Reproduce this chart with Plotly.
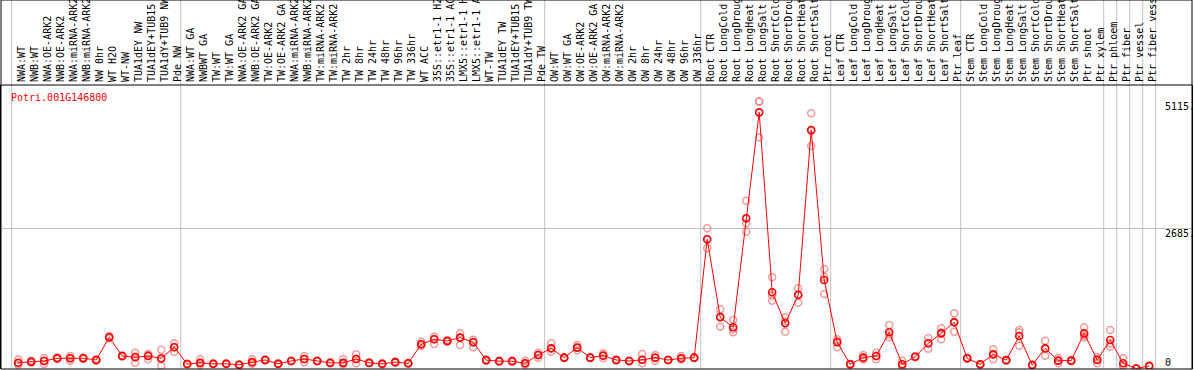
import plotly.graph_objects as go

gene = "Potri.001G146800"

group_labels = [
    ["NWA:WT", "NWB:WT", "NWA:OE-ARK2", "NWB:OE-ARK2", "NWA:miRNA-ARK2", "NWB:miRNA-ARK2",
     "NW 0hr", "WT H2O", "WT-NW", "TUA1dEY NW", "TUA1dEY+TUB15 NW", "TUA1dY+TUB9 NW", "Pde NW"],
    ["NWA:WT GA", "NWBWT GA", "TW:WT", "TW:WT GA", "NWA:OE-ARK2 GA", "NWB:OE-ARK2 GA",
     "TW:OE-ARK2", "TW:OE-ARK2 GA", "NWA:miRNA-ARK2 GA", "NWB:miRNA-ARK2 GA", "TW:miRNA-ARK2",
     "TW:miRNA-ARK2 GA", "TW 2hr", "TW 8hr", "TW 24hr", "TW 48hr", "TW 96hr", "TW 336hr",
     "WT ACC", "35S::etr1-1 H2O", "35S::etr1-1 ACC", "LMX5::etr1-1 H2O", "LMX5::etr1-1 ACC",
     "WT-TW", "TUA1dEY TW", "TUA1dEY+TUB15 TW", "TUA1dY+TUB9 TW", "Pde TW"],
    ["OW:WT", "OW:WT GA", "OW:OE-ARK2", "OW:OE-ARK2 GA", "OW:miRNA-ARK2", "OW:miRNA-ARK2 GA",
     "OW 2hr", "OW 8hr", "OW 24hr", "OW 48hr", "OW 96hr", "OW 336hr"],
    ["Root CTR", "Root LongCold", "Root LongDrought", "Root LongHeat", "Root LongSalt",
     "Root ShortCold", "Root ShortDrought", "Root ShortHeat", "Root ShortSalt", "Ptr root"],
    ["Leaf CTR", "Leaf LongCold", "Leaf LongDrought", "Leaf LongHeat", "Leaf LongSalt",
     "Leaf ShortCold", "Leaf ShortDrought", "Leaf ShortHeat", "Leaf ShortSalt", "Ptr leaf"],
    ["Stem CTR", "Stem LongCold", "Stem LongDrought", "Stem LongHeat", "Stem LongSalt",
     "Stem ShortCold", "Stem ShortDrought", "Stem ShortHeat", "Stem ShortSalt", "Ptr shoot", "Ptr xylem"],
    ["Ptr phloem"],
    ["Ptr fiber"],
    ["Ptr vessel"],
    ["Ptr fiber vessel"],
]

mean_values = [
    111, 130, 144, 195, 195, 195, 163, 597, 239, 214, 239, 195, 406,
    86, 108, 89, 89, 70, 121, 163, 89, 144, 182, 144, 108, 108, 182, 108, 89, 121, 99,
    463, 559, 527, 591, 503, 160, 140, 140, 99, 259,
    386, 207, 399, 207, 246, 163, 144, 166, 207, 163, 195, 207,
    2474, 980, 789, 2876, 4906, 1459, 865, 1407, 4567, 1695,
    501, 80, 207, 239, 693, 80, 226, 482, 673, 884,
    195, 80, 271, 160, 622, 67, 386, 150, 150, 673, 163,
    546, 99, 0, 48,
]

rep_a = [
    170, 150, 195, 210, 239, 210, 175, 620, 250, 303, 278, 358, 482,
    90, 176, 95, 95, 75, 176, 170, 95, 150, 239, 150, 115, 176, 271, 112, 95, 130, 105,
    513, 610, 545, 673, 550, 170, 148, 150, 150, 303,
    482, 215, 450, 215, 290, 170, 150, 278, 259, 168, 239, 215,
    2685, 1134, 929, 3214, 5115, 1746, 980, 1536, 4887, 1905,
    559, 90, 259, 303, 833, 150, 235, 584, 770, 1057,
    205, 88, 367, 168, 737, 75, 533, 200, 160, 789, 214,
    737, 195, 5, 55,
]

rep_b = [
    70, 110, 86, 180, 150, 180, 150, 580, 230, 111, 176, 57, 322,
    80, 70, 85, 85, 60, 90, 155, 85, 140, 121, 138, 100, 80, 99, 104, 82, 112, 92,
    430, 469, 510, 450, 408, 150, 132, 130, 70, 207,
    322, 200, 350, 200, 195, 155, 138, 99, 150, 158, 170, 200,
    2302, 801, 693, 2620, 4427, 1298, 705, 1260, 4261, 1427,
    408, 70, 170, 176, 597, 50, 215, 377, 559, 705,
    185, 72, 176, 152, 437, 60, 246, 99, 140, 600, 99,
    418, 50, 0, 40,
]

rep_c = [
    100, 130, 150, 195, 195, 195, 163, 597, 239, 228, 260, 170, 410,
    86, 108, 89, 89, 70, 121, 163, 89, 144, 182, 144, 108, 108, 182, 108, 89, 121, 99,
    463, 559, 527, 591, 503, 160, 140, 140, 99, 259,
    386, 207, 399, 207, 246, 163, 144, 166, 207, 163, 195, 207,
    2474, 1000, 750, 2780, 5115, 1400, 900, 1420, 4550, 1750,
    520, 80, 190, 239, 650, 40, 226, 485, 690, 890,
    195, 80, 270, 160, 692, 67, 380, 150, 150, 630, 176,
    483, 52, 0, 48,
]

y_tick_values = [0, 2685, 5115]
y_tick_texts = ["0", "2685.", "5115."]

# ---------------------------------------------------------------
labels = [lab for g in group_labels for lab in g]
xs = list(range(len(labels)))

boundaries = [-0.5]
acc = 0
for g in group_labels:
    acc += len(g)
    boundaries.append(acc - 0.5)

FONT = "DejaVu Sans Mono"
W, H = 1194, 370
ML, MR, MT, MB = 1, 2, 85, 1
plot_h = H - MT - MB
top_paper = 1 + MT / plot_h

fig = go.Figure()

rep_x = xs * 3
rep_y = rep_a + rep_b + rep_c
fig.add_trace(go.Scatter(
    x=rep_x, y=rep_y, mode="markers",
    marker=dict(symbol="circle-open", size=7, color="rgba(235,120,120,0.75)",
                line=dict(width=1.5, color="rgba(235,120,120,0.75)")),
    hoverinfo="skip", showlegend=False,
))
fig.add_trace(go.Scatter(
    x=xs, y=mean_values, mode="lines+markers",
    line=dict(color="#ff0000", width=1),
    marker=dict(symbol="circle-open", size=7, color="#ff0000",
                line=dict(width=1.6, color="#ff0000")),
    showlegend=False,
))

shapes = []
for b in boundaries:
    shapes.append(dict(type="line", xref="x", yref="paper", x0=b, x1=b, y0=0, y1=top_paper,
                       line=dict(color="#c0c0c0", width=1), layer="below"))
shapes.append(dict(type="rect", xref="paper", yref="paper", x0=0, x1=1, y0=0, y1=top_paper,
                   line=dict(color="black", width=1), fillcolor="rgba(0,0,0,0)", layer="above"))
shapes.append(dict(type="line", xref="paper", yref="paper", x0=0, x1=1, y0=1, y1=1,
                   line=dict(color="black", width=1), layer="above"))

annotations = [dict(text=gene, xref="paper", yref="paper", x=8 / (W - ML - MR), y=(H - MB - 97) / plot_h,
                    xanchor="left", yanchor="middle", showarrow=False,
                    font=dict(family=FONT, size=10, color="#ff0000"))]
lab_x = (1163 - ML) / (W - ML - MR)
for v, t in zip(y_tick_values, y_tick_texts):
    shift = 6 if v == 0 else -5
    annotations.append(dict(text=t, xref="paper", yref="y", x=lab_x, y=v, yshift=shift,
                            xanchor="left", yanchor="middle", showarrow=False,
                            font=dict(family=FONT, size=10, color="black")))

px_per_unit = 13.0
x0_px = 18.2
x_left = (ML - x0_px) / px_per_unit
x_right = (W - MR - x0_px) / px_per_unit

fig.update_layout(
    width=W, height=H, template=None,
    margin=dict(l=ML, r=MR, t=MT, b=MB, pad=0),
    paper_bgcolor="white", plot_bgcolor="white",
    shapes=shapes, annotations=annotations,
    xaxis=dict(range=[x_left, x_right], side="top", tickmode="array", tickvals=xs, ticktext=labels,
               tickangle=-90, tickfont=dict(family=FONT, size=10, color="black"),
               showgrid=False, zeroline=False, showline=False, ticks="", automargin=False,
               ticklabelstandoff=2, ticklabelshift=4),
    yaxis=dict(range=[-10, 5430], tickmode="array", tickvals=[2685], showticklabels=False,
               showgrid=True, gridcolor="#c0c0c0", gridwidth=1, zeroline=False,
               showline=True, mirror=True, linecolor="black", linewidth=1, ticks="",
               automargin=False),
    hovermode=False,
)

fig.write_html(
    "out.html",
    config={"displayModeBar": False, "staticPlot": True},
    post_script="document.body.style.margin='0';document.body.style.padding='0';"
                "document.documentElement.style.overflow='hidden';",
)
